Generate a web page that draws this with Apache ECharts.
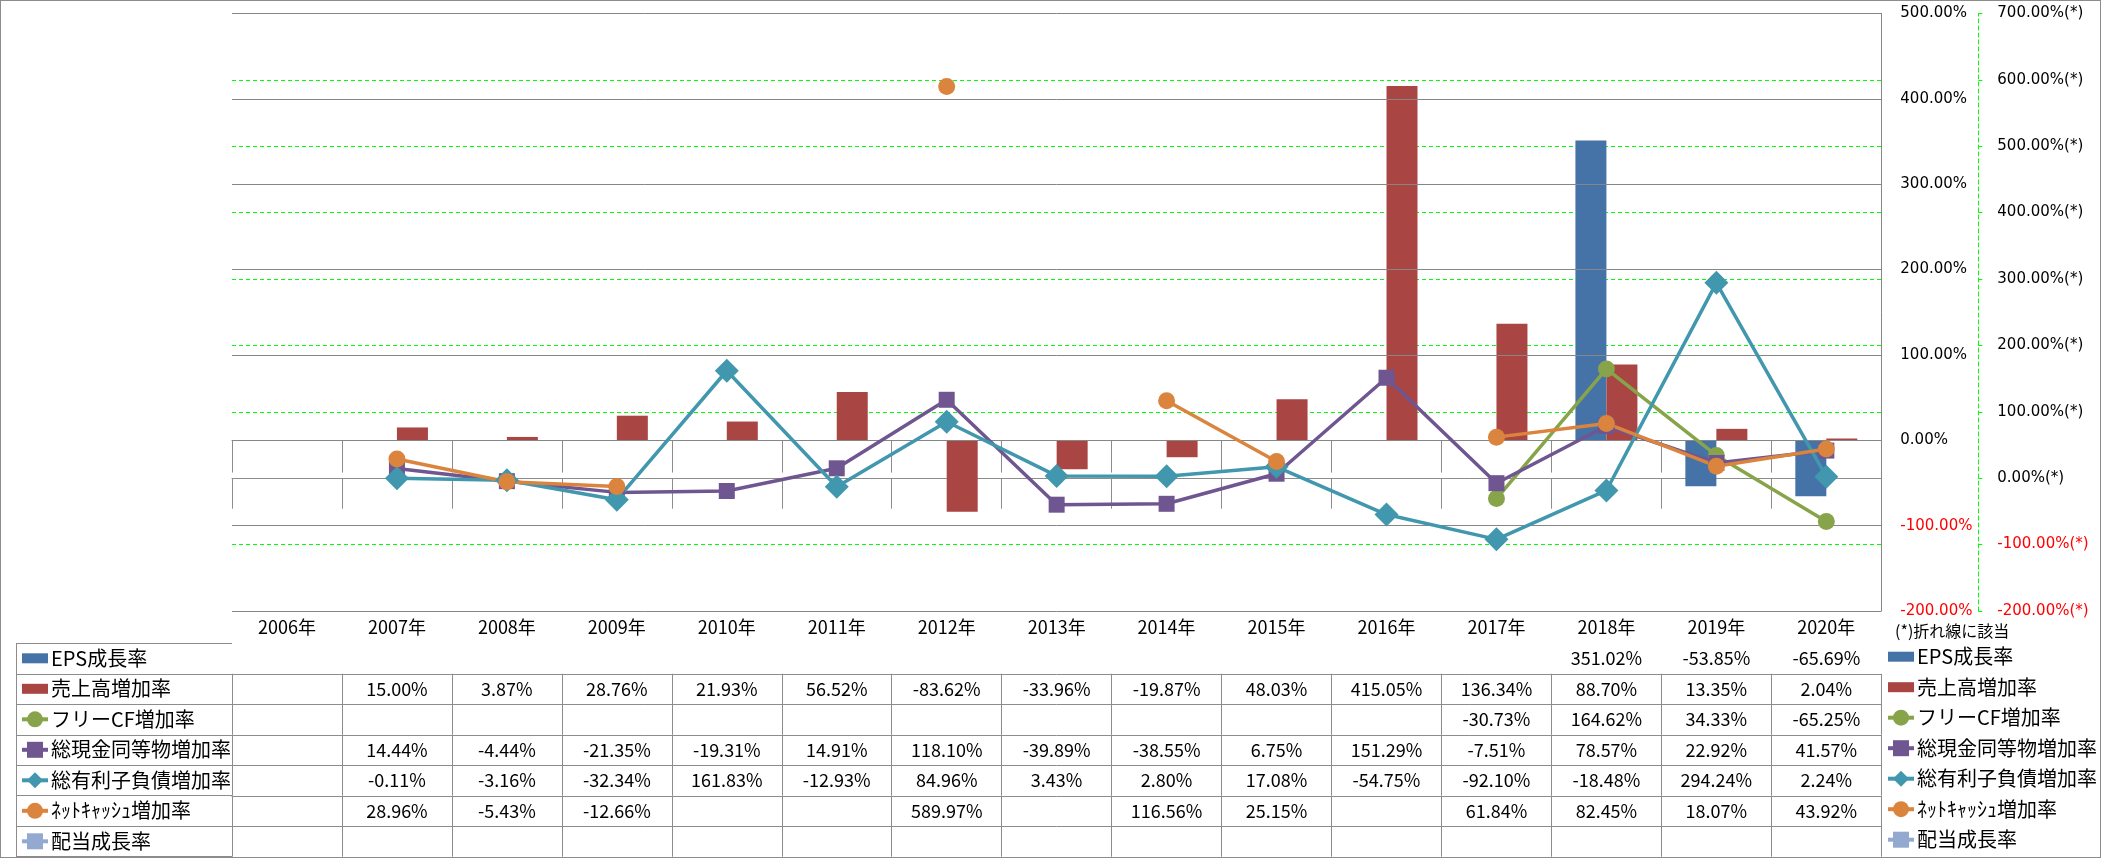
<!DOCTYPE html>
<html>
<head>
<meta charset="utf-8">
<script src="https://cdn.jsdelivr.net/npm/echarts@6/dist/echarts.min.js"></script>
<style>
html,body{margin:0;padding:0;background:#fff;}
#c{width:2099px;height:856px;border:1px solid #8c8c8c;}
</style>
</head>
<body>
<div id="c"></div>
<script>
// ---- data ----
const years = ['2006年','2007年','2008年','2009年','2010年','2011年','2012年','2013年','2014年','2015年','2016年','2017年','2018年','2019年','2020年'];
const seriesNames = ['EPS成長率','売上高増加率','フリーCF増加率','総現金同等物増加率','総有利子負債増加率','ﾈｯﾄｷｬｯｼｭ増加率','配当成長率'];
const epsGrowth    = [null,null,null,null,null,null,null,null,null,null,null,null,351.02,-53.85,-65.69];
const salesGrowth  = [null,15.00,3.87,28.76,21.93,56.52,-83.62,-33.96,-19.87,48.03,415.05,136.34,88.70,13.35,2.04];
const fcfGrowth    = [null,null,null,null,null,null,null,null,null,null,null,-30.73,164.62,34.33,-65.25];
const cashGrowth   = [null,14.44,-4.44,-21.35,-19.31,14.91,118.10,-39.89,-38.55,6.75,151.29,-7.51,78.57,22.92,41.57];
const debtGrowth   = [null,-0.11,-3.16,-32.34,161.83,-12.93,84.96,3.43,2.80,17.08,-54.75,-92.10,-18.48,294.24,2.24];
const netCashGrowth= [null,28.96,-5.43,-12.66,null,null,589.97,null,116.56,25.15,null,61.84,82.45,18.07,43.92];
const divGrowth    = [null,null,null,null,null,null,null,null,null,null,null,null,null,null,null];
const primaryTicks = {min:-200, max:500, step:100};
const secondaryTicks = {min:-200, max:700, step:100};
const noteText = '(*)折れ線に該当';

// ---- styles ----
const colors = ['#4573A7','#A94543','#87A44A','#6F5690','#4097AE','#DB843D','#93A9CF'];
const gridGray = '#868686';
const tableGray = '#8c8c8c';
const green = '#00ff00';
const jp = '"Noto Sans CJK JP", "Noto Sans", sans-serif';
const axisFont = '"DejaVu Sans", sans-serif';

const rows = [epsGrowth, salesGrowth, fcfGrowth, cashGrowth, debtGrowth, netCashGrowth, divGrowth];
const fmt = v => (v === null || v === undefined) ? '' : v.toFixed(2) + '%';

const headerH = 32.3, rowH = 30.49;
const xAxes = [{
  type:'category', gridIndex:0, data:years, position:'bottom', offset:0,
  axisLine:{show:true, lineStyle:{color:tableGray, width:1}},
  axisTick:{show:true, interval:0, length:headerH, lineStyle:{color:tableGray}},
  axisLabel:{interval:0, margin:7, fontSize:18, fontFamily:jp, color:'#000'},
  splitLine:{show:false}
}];
rows.forEach((r, i) => {
  xAxes.push({
    type:'category', gridIndex:0, data:years, position:'bottom', offset: headerH + rowH * i,
    axisLine:{show:true, lineStyle:{color:tableGray, width:1}},
    axisTick:{show:true, interval:0, length:rowH, lineStyle:{color:tableGray}},
    axisLabel:{interval:0, margin:6, fontSize:18, fontFamily:jp, color:'#000',
      formatter:(v, idx) => fmt(r[idx])},
    splitLine:{show:false}
  });
});
xAxes.push({type:'value', gridIndex:1, show:false, min:0, max:1});

const barIcon = 'path://M0,0H26V10H0Z';
const legendData = seriesNames.map((n, i) => i < 2 ? {name:n, icon:barIcon} : n);
const legendBase = {
  orient:'vertical', itemWidth:26, itemHeight:20, itemGap:10.5, selectedMode:false,
  symbolKeepAspect:true,
  lineStyle:{width:4},
  textStyle:{fontSize:20, lineHeight:20, fontFamily:jp, color:'#000', padding:[0,0,0,-2]},
  data: legendData, padding:0
};

const lineSeries = (idx, data, symbol, size) => ({
  name: seriesNames[idx], type:'line', xAxisIndex:0, yAxisIndex:1, data: data,
  symbol: symbol, symbolSize: size, connectNulls:false,
  lineStyle:{width:3.5, color:colors[idx]}, itemStyle:{color:colors[idx]},
  emphasis:{disabled:true}
});

const option = {
  animation:false,
  backgroundColor:'#fff',
  title:{text:noteText, left:1894, top:622, padding:0,
    textStyle:{fontSize:16, fontWeight:'normal', fontFamily:jp, color:'#000'}},
  legend:[
    Object.assign({}, legendBase, {left:19, top:647.3}),
    Object.assign({}, legendBase, {left:1885, top:645.7})
  ],
  grid:[
    {left:231, top:12.4, width:1649.3, height:597.6, outerBoundsMode:'none', containLabel:false},
    {left:15.5, top:642.3, width:215.5, height:213.4, outerBoundsMode:'none', containLabel:false}
  ],
  xAxis: xAxes,
  yAxis:[
    {type:'value', gridIndex:0, position:'right', min:primaryTicks.min, max:primaryTicks.max, interval:primaryTicks.step,
      axisLine:{show:true, lineStyle:{color:gridGray}}, axisTick:{show:false},
      axisLabel:{margin:19, fontSize:15, fontFamily:axisFont,
        formatter:v => Number(v).toFixed(2) + '%',
        color:v => Number(v) < 0 ? '#ff0000' : '#000'},
      splitLine:{show:true, lineStyle:{color:gridGray, width:1}}, z:3},
    {type:'value', gridIndex:0, position:'right', offset:97, min:secondaryTicks.min, max:secondaryTicks.max, interval:secondaryTicks.step,
      axisLine:{show:true, lineStyle:{color:green, type:[4,3], width:1}},
      axisTick:{show:true, length:4, lineStyle:{color:green}},
      axisLabel:{margin:19, fontSize:15, fontFamily:axisFont,
        formatter:v => Number(v).toFixed(2) + '%(*)',
        color:v => Number(v) < 0 ? '#ff0000' : '#000'},
      splitLine:{show:true, showMinLine:false, showMaxLine:false, lineStyle:{color:green, type:[4,3], width:1}}},
    {type:'category', gridIndex:1, data:seriesNames, inverse:true,
      axisLine:{show:true, lineStyle:{color:tableGray}}, axisTick:{show:false}, axisLabel:{show:false},
      splitLine:{show:true, lineStyle:{color:tableGray}}}
  ],
  series:[
    {name:seriesNames[0], type:'bar', xAxisIndex:0, yAxisIndex:0, data:epsGrowth, barWidth:31, barGap:'0%',
      itemStyle:{color:colors[0]}, emphasis:{disabled:true}},
    {name:seriesNames[1], type:'bar', xAxisIndex:0, yAxisIndex:0, data:salesGrowth, barWidth:31, barGap:'0%',
      itemStyle:{color:colors[1]}, emphasis:{disabled:true}},
    lineSeries(2, fcfGrowth, 'circle', 17),
    lineSeries(3, cashGrowth, 'rect', 16),
    lineSeries(4, debtGrowth, 'diamond', 24),
    lineSeries(5, netCashGrowth, 'circle', 17),
    lineSeries(6, divGrowth, 'rect', 16)
  ]
};

const chart = echarts.init(document.getElementById('c'));
chart.setOption(option);
</script>
</body>
</html>
